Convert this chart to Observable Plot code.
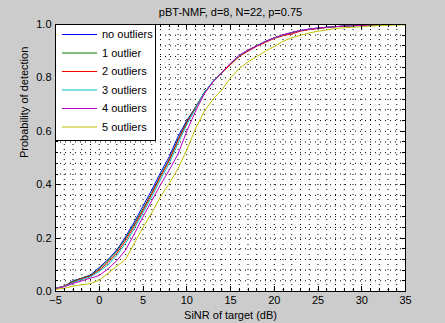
<!DOCTYPE html>
<html><head><meta charset="utf-8">
<script src="https://cdn.jsdelivr.net/npm/d3@7"></script>
<script src="https://cdn.jsdelivr.net/npm/@observablehq/plot@0.6"></script>
<style>
html,body{margin:0;padding:0;background:#cccccc;}
#chart{width:445px;height:323px;}
svg{display:block;}
</style></head><body><div id="chart"></div>
<script>
const titleText = "pBT-NMF, d=8, N=22, p=0.75";
const xLabel = "SiNR of target (dB)";
const yLabel = "Probability of detection";
const seriesNames = ["no outliers","1 outlier","2 outliers","3 outliers","4 outliers","5 outliers"];
const seriesColors = ["#0000ff","#008000","#ff0000","#00bfbf","#bf00bf","#bfbf00"];
const sinrDb = [-5,-4,-3,-2,-1,0,1,2,3,4,5,6,7,8,9,10,11,12,13,14,15,16,17,18,19,20,21,22,23,24,25,26,27,28,29,30,31,32,33,34,35];
const pNone = [0.012,0.02,0.04,0.05,0.062,0.09,0.12,0.155,0.205,0.26,0.32,0.38,0.445,0.505,0.58,0.64,0.69,0.745,0.786,0.82,0.853,0.882,0.903,0.92,0.937,0.95,0.96,0.97,0.977,0.982,0.986,0.989,0.992,0.994,0.995,0.996,0.997,0.999,1,1,1];
const pOne = [0.012,0.02,0.038,0.05,0.06,0.085,0.115,0.15,0.198,0.252,0.31,0.37,0.435,0.495,0.57,0.635,0.69,0.745,0.785,0.82,0.852,0.882,0.902,0.92,0.936,0.95,0.96,0.969,0.977,0.982,0.986,0.989,0.992,0.994,0.995,0.997,0.998,0.999,1,1,1];
const pTwo = [0.011,0.02,0.035,0.048,0.058,0.08,0.108,0.143,0.19,0.245,0.303,0.365,0.43,0.49,0.565,0.632,0.688,0.743,0.785,0.818,0.85,0.88,0.9,0.918,0.933,0.948,0.958,0.965,0.975,0.981,0.985,0.989,0.992,0.994,0.996,0.997,0.998,0.999,1,1,1];
const pThree = [0.011,0.019,0.033,0.045,0.055,0.075,0.1,0.135,0.18,0.235,0.295,0.355,0.42,0.48,0.555,0.625,0.685,0.745,0.787,0.82,0.854,0.883,0.904,0.92,0.937,0.95,0.961,0.97,0.978,0.983,0.987,0.99,0.992,0.994,0.996,0.998,0.999,1,1,1,1];
const pFour = [0.01,0.018,0.03,0.04,0.05,0.06,0.085,0.115,0.155,0.215,0.28,0.34,0.4,0.455,0.515,0.6,0.675,0.74,0.785,0.82,0.855,0.885,0.905,0.92,0.937,0.95,0.962,0.97,0.978,0.983,0.987,0.99,0.992,0.994,0.995,0.997,0.998,0.999,1,1,1];
const pFive = [0.008,0.012,0.02,0.025,0.03,0.042,0.068,0.095,0.12,0.18,0.24,0.295,0.355,0.405,0.46,0.53,0.61,0.675,0.72,0.755,0.8,0.835,0.86,0.88,0.9,0.918,0.937,0.95,0.96,0.968,0.975,0.98,0.985,0.988,0.99,0.992,0.994,0.996,0.997,0.998,0.998];
const xMajorTicks = [-5,0,5,10,15,20,25,30,35];
const yMajorTicks = [0,0.2,0.4,0.6,0.8,1];
const yMinorTicks = [0,0.04,0.08,0.12,0.16,0.2,0.24,0.28,0.32,0.36,0.4,0.44,0.48,0.52,0.56,0.6,0.64,0.68,0.72,0.76,0.8,0.84,0.88,0.92,0.96,1];

const seriesValues = [pNone,pOne,pTwo,pThree,pFour,pFive];
const data = [];
seriesValues.forEach((vals, s) => vals.forEach((p, i) => data.push({series: seriesNames[s], x: sinrDb[i], p})));

const font = "'Liberation Sans', Arial, Helvetica, sans-serif";
const plot = Plot.plot({
  width: 445, height: 323,
  marginLeft: 55, marginRight: 40, marginTop: 24, marginBottom: 32,
  style: {background: "transparent", fontFamily: font, fontSize: "11px", color: "black"},
  x: {domain: [-5, 35], ticks: xMajorTicks, tickSize: 0, tickPadding: 5, label: null},
  y: {domain: [0, 1], ticks: yMajorTicks, tickSize: 0, tickPadding: 4, label: null},
  color: {domain: seriesNames, range: seriesColors},
  marks: [
    Plot.frame({fill: "white"}),
    Plot.gridX(sinrDb, {stroke: "black", strokeOpacity: 1, strokeDasharray: "1,4"}),
    Plot.gridY(yMinorTicks, {stroke: "black", strokeOpacity: 1, strokeDasharray: "1,4"}),
    Plot.line(data, {x: "x", y: "p", z: "series", stroke: "series", strokeWidth: 1}),
    Plot.axisX(xMajorTicks, {anchor: "bottom", tickSize: 0, tickPadding: 5, label: null}),
    Plot.axisY(yMajorTicks, {anchor: "left", tickSize: 0, tickPadding: 4, label: null}),
    Plot.frame({stroke: "black"}),
    Plot.text([titleText], {frameAnchor: "top", dy: -12, text: d => d, fontSize: 11, lineAnchor: "middle"}),
    Plot.text([xLabel], {frameAnchor: "bottom", dy: 24, text: d => d, fontSize: 11, lineAnchor: "middle"}),
    Plot.text([yLabel], {frameAnchor: "left", dx: -31, rotate: -90, text: d => d, fontSize: 11, lineAnchor: "middle"})
  ]
});
document.getElementById("chart").appendChild(plot);

// inward ticks on all four sides, placed with the plot's own scales
const sx = plot.scale("x"), sy = plot.scale("y");
const [x0, x1] = sx.range, [y0, y1] = sy.range; // y0 bottom, y1 top
const svg = d3.select(plot);
const tg = svg.append("g").attr("stroke", "black").attr("stroke-width", 1).attr("shape-rendering", "crispEdges");
function vt(v, len) {
  const px = Math.round(sx.apply(v)) + 0.5;
  tg.append("line").attr("x1", px).attr("x2", px).attr("y1", y0).attr("y2", y0 - len);
  tg.append("line").attr("x1", px).attr("x2", px).attr("y1", y1).attr("y2", y1 + len);
}
function ht(v, len) {
  const py = Math.round(sy.apply(v)) + 0.5;
  tg.append("line").attr("y1", py).attr("y2", py).attr("x1", x0).attr("x2", x0 + len);
  tg.append("line").attr("y1", py).attr("y2", py).attr("x1", x1).attr("x2", x1 - len);
}
sinrDb.forEach(v => vt(v, 3));
xMajorTicks.forEach(v => vt(v, 5));
yMinorTicks.forEach(v => ht(v, 3));
yMajorTicks.forEach(v => ht(v, 5));

// legend box (MATLAB style) inside the axes, top-left
const lg = svg.append("g").attr("font-family", font).attr("font-size", 11).attr("text-anchor", "start");
lg.append("rect").attr("x", x0 + 0.5).attr("y", y1 + 0.5).attr("width", 100).attr("height", 116)
  .attr("fill", "white").attr("stroke", "black");
seriesNames.forEach((name, i) => {
  const yy = y1 + 10.5 + i * 18.5;
  lg.append("line").attr("x1", x0 + 7).attr("x2", x0 + 42).attr("y1", yy).attr("y2", yy)
    .attr("stroke", seriesColors[i]).attr("stroke-width", 1);
  lg.append("text").attr("x", x0 + 47).attr("y", yy).attr("dy", "0.35em").attr("text-anchor", "start").text(name);
});
</script></body></html>
